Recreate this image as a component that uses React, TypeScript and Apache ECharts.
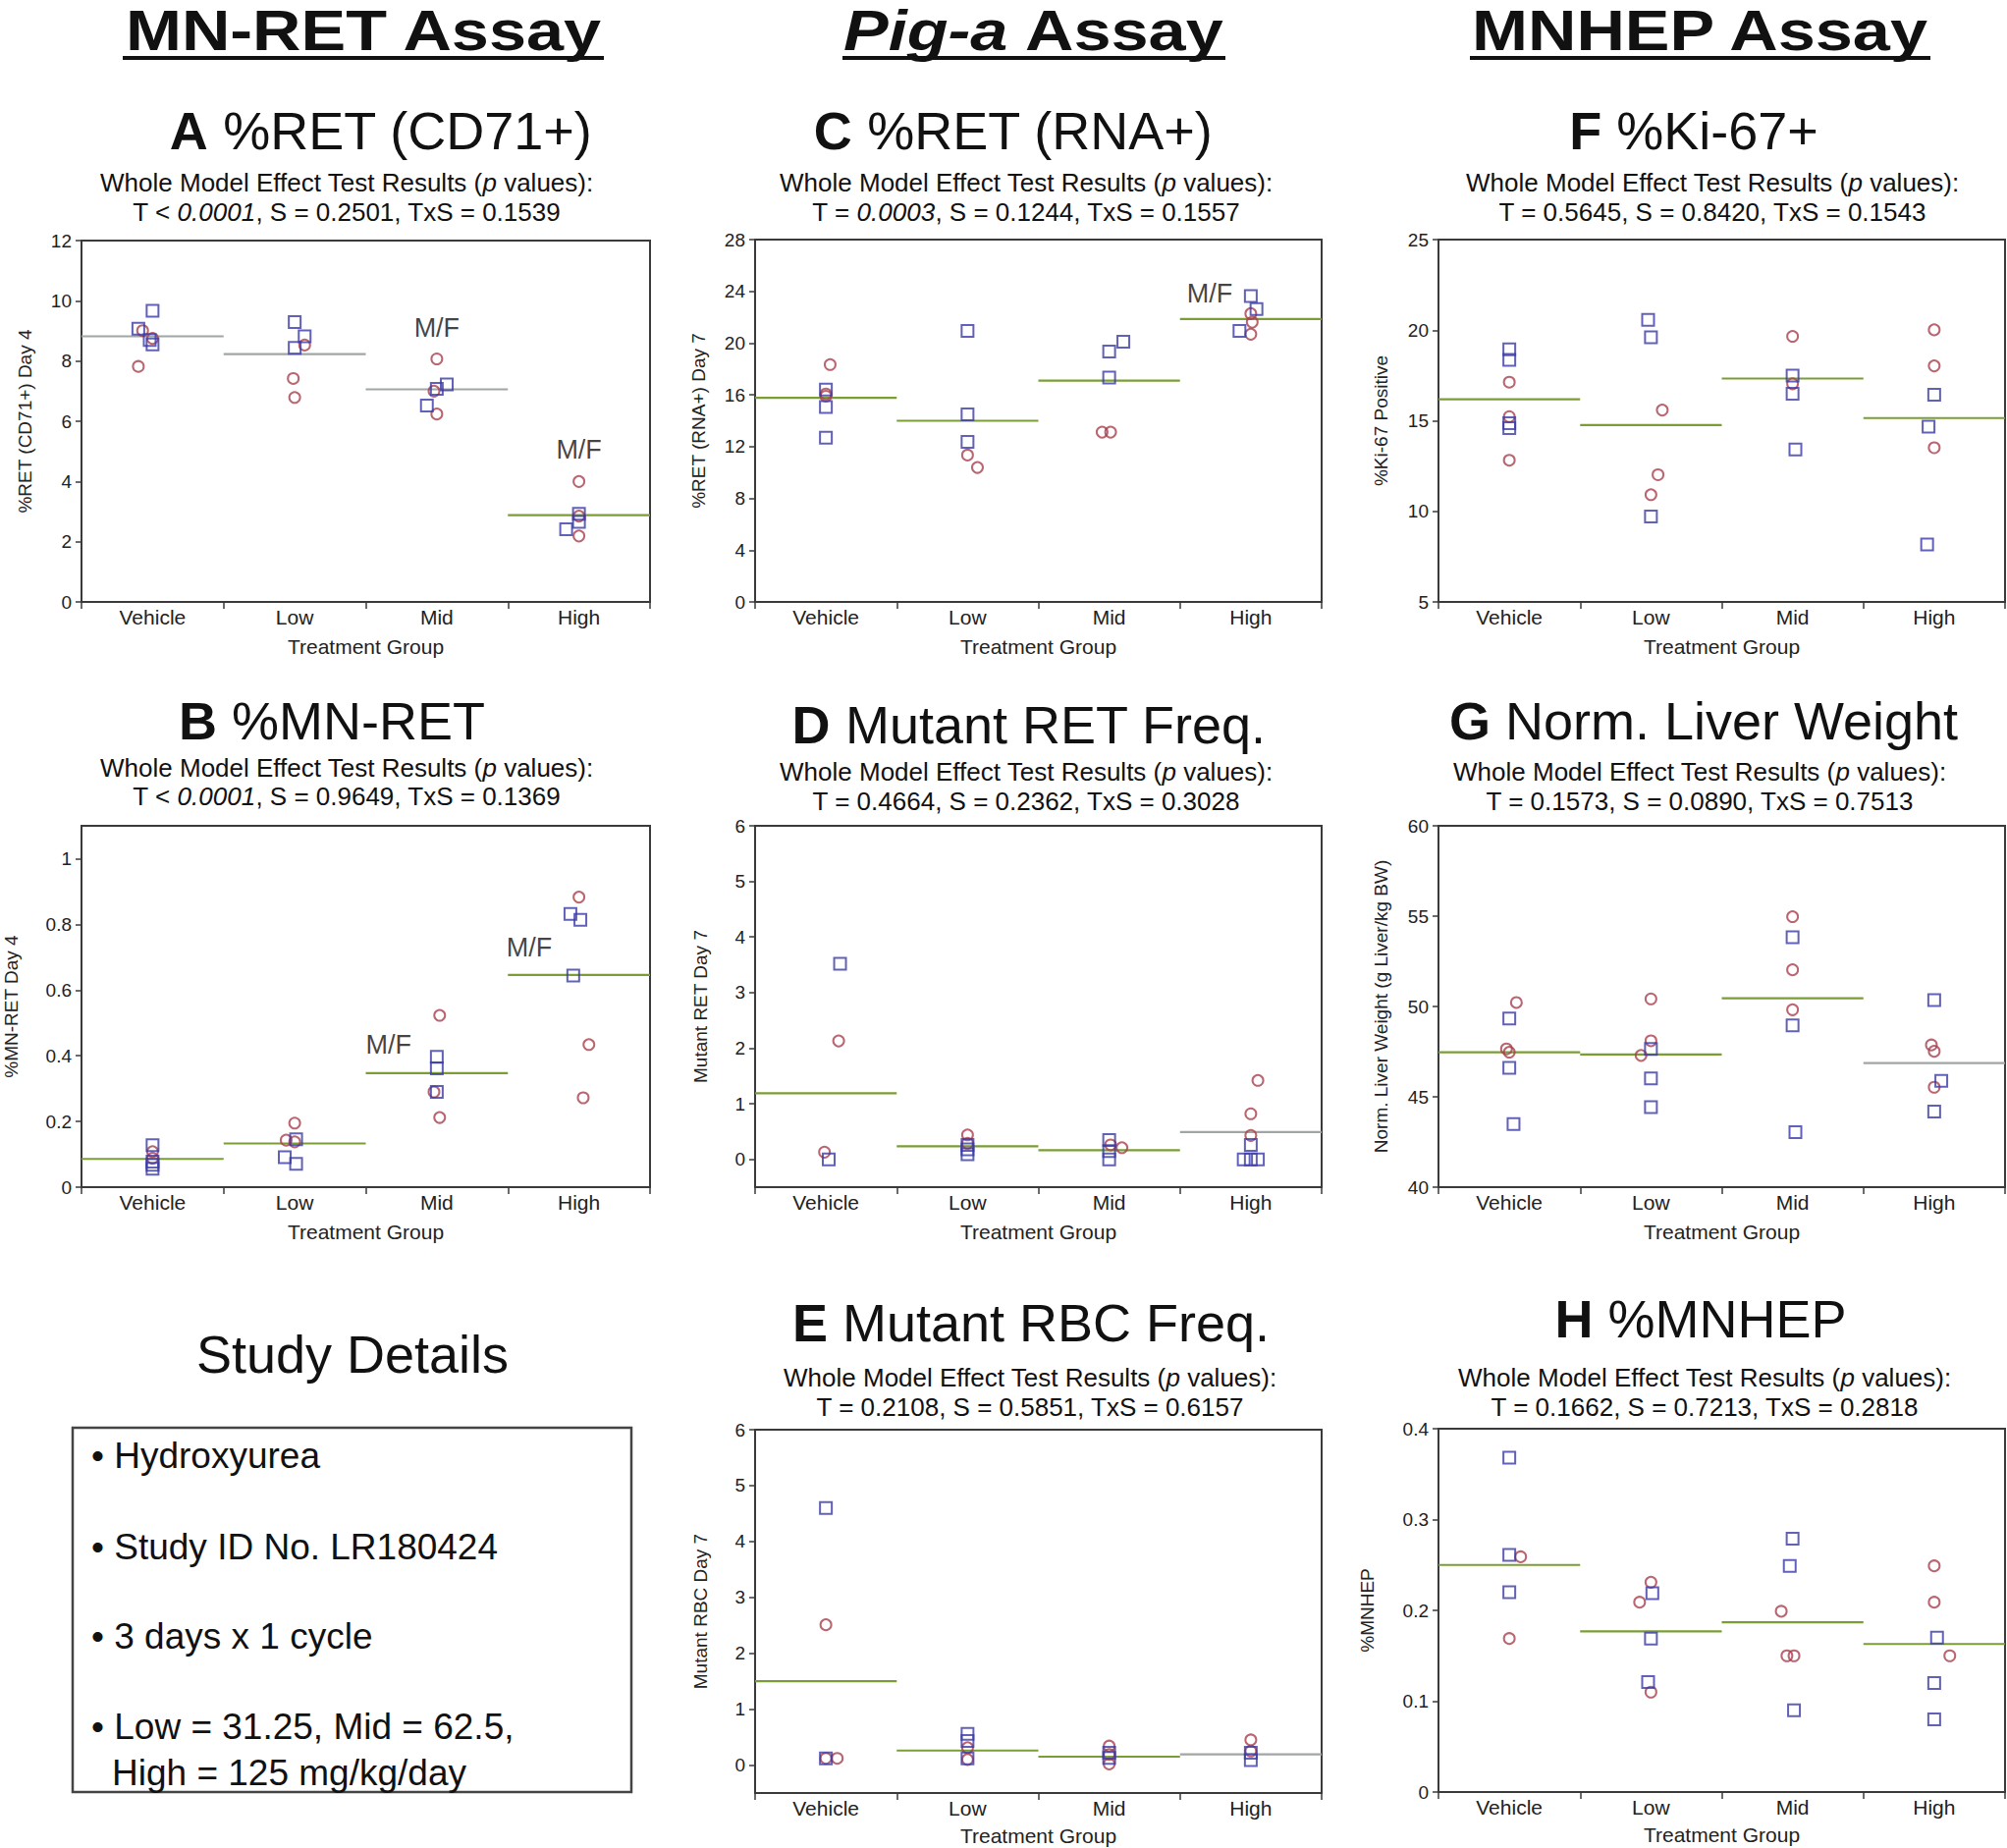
import React, { useEffect, useRef } from 'react';
import * as echarts from 'echarts';

const FONT = '"Liberation Sans", Arial, Helvetica, sans-serif';

const CATEGORIES = ['Vehicle', 'Low', 'Mid', 'High'];
const X_LABEL_VALUES = [0, 1, 2, 3];
const X_TICK_VALUES = [-0.5, 0.5, 1.5, 2.5, 3.5];

// points: [groupIndex, value, jitter (fraction of group width)]
// ---- A %RET (CD71+)
const A_MALE = [[0, 9.07, -0.1], [0, 9.67, 0], [0, 8.55, 0], [0, 8.7, -0.02], [1, 9.29, 0], [1, 8.82, 0.07], [1, 8.44, 0], [2, 6.52, -0.07], [2, 7.22, 0.07], [2, 7.08, 0], [3, 2.41, -0.09], [3, 2.93, 0], [3, 2.66, 0]];
const A_FEMALE = [[0, 7.82, -0.1], [0, 9.01, -0.07], [0, 8.75, 0], [1, 8.53, 0.07], [1, 7.42, -0.01], [1, 6.79, 0], [2, 8.07, 0], [2, 6.24, 0], [2, 7.0, -0.02], [3, 4.0, 0], [3, 2.19, 0], [3, 2.85, 0]];
const A_MEANS = [8.82, 8.23, 7.06, 2.88];
const A_TICKS = [0, 2, 4, 6, 8, 10, 12];
const A_MF = [[2, 9.1, 0], [3, 5.05, 0]];

// ---- C %RET (RNA+)
const C_MALE = [[0, 16.4, 0], [0, 15.06, 0], [0, 12.69, 0], [1, 20.94, 0], [1, 14.5, 0], [1, 12.36, 0], [2, 19.35, 0], [2, 20.1, 0.1], [2, 17.33, 0], [3, 23.64, 0], [3, 22.63, 0.04], [3, 20.94, -0.08]];
const C_FEMALE = [[0, 18.34, 0.03], [0, 16.07, 0], [0, 15.9, 0], [1, 11.35, 0], [1, 10.39, 0.07], [2, 13.12, -0.05], [2, 13.12, 0.01], [3, 22.28, 0], [3, 21.62, 0.01], [3, 20.69, 0]];
const C_MEANS = [15.77, 14.0, 17.1, 21.87];
const C_TICKS = [0, 4, 8, 12, 16, 20, 24, 28];
const C_MF = [[3, 23.8, -0.29]];

// ---- F %Ki-67+
const F_MALE = [[0, 18.94, 0], [0, 18.36, 0], [0, 14.86, 0], [0, 14.6, 0], [1, 20.57, -0.02], [1, 19.61, 0], [1, 9.71, 0], [2, 17.49, 0], [2, 16.49, 0], [2, 13.42, 0.02], [3, 16.44, 0], [3, 14.68, -0.04], [3, 8.17, -0.05]];
const F_FEMALE = [[0, 17.13, 0], [0, 15.23, 0], [0, 12.82, 0], [1, 15.59, 0.08], [1, 12.02, 0.05], [1, 10.92, 0], [2, 19.66, 0], [2, 17.04, 0], [3, 20.02, 0], [3, 18.03, 0], [3, 13.51, 0]];
const F_MEANS = [16.19, 14.76, 17.33, 15.15];
const F_TICKS = [5, 10, 15, 20, 25];

// ---- B %MN-RET
const B_MALE = [[0, 0.128, 0], [0, 0.068, 0], [0, 0.056, 0], [0, 0.078, 0], [1, 0.091, -0.07], [1, 0.071, 0.01], [1, 0.146, 0.01], [2, 0.397, 0], [2, 0.362, 0], [2, 0.29, 0], [3, 0.832, -0.06], [3, 0.814, 0.01], [3, 0.644, -0.04]];
const B_FEMALE = [[0, 0.108, 0], [0, 0.088, 0], [1, 0.195, 0], [1, 0.143, -0.06], [1, 0.138, 0], [2, 0.523, 0.02], [2, 0.29, -0.02], [2, 0.212, 0.02], [3, 0.883, 0], [3, 0.434, 0.07], [3, 0.272, 0.03]];
const B_MEANS = [0.086, 0.133, 0.347, 0.646];
const B_TICKS = [0, 0.2, 0.4, 0.6, 0.8, 1];
const B_MF = [[2, 0.432, -0.34], [3, 0.728, -0.35]];

// ---- D Mutant RET Freq.
const D_MALE = [[0, 3.52, 0.1], [0, 0.0, 0.02], [1, 0.09, 0], [1, 0.18, 0], [1, 0.26, 0], [2, 0.35, 0], [2, 0.15, 0], [2, 0.0, 0], [3, 0.0, -0.05], [3, 0.0, 0], [3, 0.0, 0.05], [3, 0.26, 0]];
const D_FEMALE = [[0, 2.13, 0.09], [0, 0.13, -0.01], [1, 0.44, 0], [1, 0.29, 0], [2, 0.21, 0.09], [2, 0.26, 0.01], [3, 1.42, 0.05], [3, 0.82, 0], [3, 0.43, 0]];
const D_MEANS = [1.19, 0.235, 0.164, 0.49];
const D_TICKS = [0, 1, 2, 3, 4, 5, 6];

// ---- G Norm. Liver Weight
const G_MALE = [[0, 49.33, 0], [0, 46.6, 0], [0, 43.49, 0.03], [1, 47.65, 0], [1, 46.02, 0], [1, 44.43, 0], [2, 53.83, 0], [2, 48.95, 0], [2, 43.04, 0.02], [3, 50.36, 0], [3, 45.88, 0.05], [3, 44.18, 0]];
const G_FEMALE = [[0, 50.22, 0.05], [0, 47.65, -0.02], [0, 47.47, 0], [1, 50.42, 0], [1, 48.1, 0], [1, 47.29, -0.07], [2, 54.97, 0], [2, 52.03, 0], [2, 49.82, 0], [3, 47.87, -0.02], [3, 47.52, 0], [3, 45.53, 0]];
const G_MEANS = [47.47, 47.34, 50.45, 46.87];
const G_TICKS = [40, 45, 50, 55, 60];

// ---- E Mutant RBC Freq.
const E_MALE = [[0, 4.6, 0], [0, 0.12, 0], [1, 0.56, 0], [1, 0.43, 0], [1, 0.12, 0], [2, 0.13, 0], [2, 0.22, 0], [3, 0.09, 0], [3, 0.22, 0]];
const E_FEMALE = [[0, 2.51, 0], [0, 0.12, 0.08], [0, 0.12, 0], [1, 0.31, 0], [1, 0.1, 0], [2, 0.34, 0], [2, 0.02, 0], [2, 0.19, 0], [3, 0.45, 0], [3, 0.25, 0]];
const E_MEANS = [1.5, 0.26, 0.15, 0.19];
const E_TICKS = [0, 1, 2, 3, 4, 5, 6];

// ---- H %MNHEP
const H_MALE = [[0, 0.368, 0], [0, 0.261, 0], [0, 0.22, 0], [1, 0.219, 0.01], [1, 0.169, 0], [1, 0.121, -0.02], [2, 0.279, 0], [2, 0.249, -0.02], [2, 0.09, 0.01], [3, 0.17, 0.02], [3, 0.12, 0], [3, 0.08, 0]];
const H_FEMALE = [[0, 0.259, 0.08], [0, 0.169, 0], [1, 0.231, 0], [1, 0.209, -0.08], [1, 0.11, 0], [2, 0.199, -0.08], [2, 0.15, -0.04], [2, 0.15, 0.01], [3, 0.249, 0], [3, 0.209, 0], [3, 0.15, 0.11]];
const H_MEANS = [0.25, 0.177, 0.187, 0.163];
const H_TICKS = [0, 0.1, 0.2, 0.3, 0.4];

const HEADERS = ['MN-RET Assay', '{i|Pig-a} Assay', 'MNHEP Assay'];
const STUDY_LINES = ['• Hydroxyurea', '• Study ID No. LR180424', '• 3 days x 1 cycle', '• Low = 31.25, Mid = 62.5,', '  High = 125 mg/kg/day'];

const GREEN = '#7a9e34';
const GRAY = '#a0a6a6';
const BLUE = '#3a3aa6';
const RED = '#a8404e';

const PANELS = [
  { letter: 'A', title: '%RET (CD71+)', p: 'T < {i|0.0001}, S = 0.2501, TxS = 0.1539', grid: { left: 83, top: 245, width: 579, height: 368 }, yMin: 0, yMax: 12, ticks: A_TICKS, yName: '%RET (CD71+) Day 4', nameGap: 48, male: A_MALE, female: A_FEMALE, means: A_MEANS, lineColors: [GRAY, GRAY, GRAY, GREEN], mf: A_MF, tpos: [388, 133], spos: [353, 186, 216], xNameGap: 35 },
  { letter: 'C', title: '%RET (RNA+)', p: 'T = {i|0.0003}, S = 0.1244, TxS = 0.1557', grid: { left: 769, top: 244, width: 577, height: 369 }, yMin: 0, yMax: 28, ticks: C_TICKS, yName: '%RET (RNA+) Day 7', nameGap: 48, male: C_MALE, female: C_FEMALE, means: C_MEANS, lineColors: [GREEN, GREEN, GREEN, GREEN], mf: C_MF, tpos: [1032, 133], spos: [1045, 186, 216], xNameGap: 35 },
  { letter: 'F', title: ' %Ki-67+', p: 'T = 0.5645, S = 0.8420, TxS = 0.1543', grid: { left: 1465, top: 244, width: 577, height: 369 }, yMin: 5, yMax: 25, ticks: F_TICKS, yName: '%Ki-67 Positive', nameGap: 49, male: F_MALE, female: F_FEMALE, means: F_MEANS, lineColors: [GREEN, GREEN, GREEN, GREEN], mf: [], tpos: [1725, 133], spos: [1744, 186, 216], xNameGap: 35 },
  { letter: 'B', title: ' %MN-RET', p: 'T < {i|0.0001}, S = 0.9649, TxS = 0.1369', grid: { left: 83, top: 841, width: 579, height: 368 }, yMin: 0, yMax: 1.1, ticks: B_TICKS, yName: '%MN-RET Day 4', nameGap: 62, male: B_MALE, female: B_FEMALE, means: B_MEANS, lineColors: [GREEN, GREEN, GREEN, GREEN], mf: B_MF, tpos: [338, 734], spos: [353, 782, 811], xNameGap: 35 },
  { letter: 'D', title: ' Mutant RET Freq.', p: 'T = 0.4664, S = 0.2362, TxS = 0.3028', grid: { left: 769, top: 841, width: 577, height: 368 }, yMin: -0.5, yMax: 6, ticks: D_TICKS, yName: 'Mutant RET Day 7', nameGap: 46, male: D_MALE, female: D_FEMALE, means: D_MEANS, lineColors: [GREEN, GREEN, GREEN, GRAY], mf: [], tpos: [1048, 738], spos: [1045, 786, 816], xNameGap: 35 },
  { letter: 'G', title: ' Norm. Liver Weight', p: 'T = 0.1573, S = 0.0890, TxS = 0.7513', grid: { left: 1465, top: 841, width: 577, height: 368 }, yMin: 40, yMax: 60, ticks: G_TICKS, yName: 'Norm. Liver Weight (g Liver/kg BW)', nameGap: 49, male: G_MALE, female: G_FEMALE, means: G_MEANS, lineColors: [GREEN, GREEN, GREEN, GRAY], mf: [], tpos: [1735, 734], spos: [1731, 786, 816], xNameGap: 35 },
  { letter: 'E', title: ' Mutant RBC Freq.', p: 'T = 0.2108, S = 0.5851, TxS = 0.6157', grid: { left: 769, top: 1456, width: 577, height: 370 }, yMin: -0.5, yMax: 6, ticks: E_TICKS, yName: 'Mutant RBC Day 7', nameGap: 46, male: E_MALE, female: E_FEMALE, means: E_MEANS, lineColors: [GREEN, GREEN, GREEN, GRAY], mf: [], tpos: [1050, 1347], spos: [1049, 1403, 1433], xNameGap: 33 },
  { letter: 'H', title: ' %MNHEP', p: 'T = 0.1662, S = 0.7213, TxS = 0.2818', grid: { left: 1465, top: 1455, width: 577, height: 370 }, yMin: 0, yMax: 0.4, ticks: H_TICKS, yName: '%MNHEP', nameGap: 63, male: H_MALE, female: H_FEMALE, means: H_MEANS, lineColors: [GREEN, GREEN, GREEN, GREEN], mf: [], tpos: [1732, 1343], spos: [1736, 1403, 1433], xNameGap: 33 },
];

function text(x: number, y: number, t: string, size: number, opts: any = {}) {
  return {
    type: 'text',
    x,
    y,
    scaleX: opts.scaleX || 1,
    style: {
      text: t,
      fontSize: size,
      fontFamily: FONT,
      fontWeight: opts.weight || 'normal',
      fill: '#111',
      align: opts.align || 'center',
      verticalAlign: opts.valign || 'middle',
      rich: {
        b: { fontSize: size, fontFamily: FONT, fontWeight: 'bold', fill: '#111' },
        i: { fontSize: size, fontFamily: FONT, fontStyle: 'italic', fontWeight: opts.weight || 'normal', fill: '#111' },
      },
    },
  };
}

function buildOption() {
  const grid: any[] = [];
  const xAxis: any[] = [];
  const yAxis: any[] = [];
  const series: any[] = [];
  const graphic: any[] = [];

  PANELS.forEach((p, idx) => {
    grid.push({ ...p.grid, show: true, borderColor: '#3a3a3a', borderWidth: 2, backgroundColor: 'transparent' });
    xAxis.push({
      gridIndex: idx,
      type: 'value',
      min: -0.5,
      max: 3.5,
      name: 'Treatment Group',
      nameLocation: 'middle',
      nameGap: p.xNameGap,
      nameTextStyle: { fontSize: 21, fontFamily: FONT, color: '#222' },
      axisLine: { show: true, onZero: false, lineStyle: { color: '#3a3a3a', width: 2 } },
      axisTick: { show: true, length: 7, customValues: X_TICK_VALUES, lineStyle: { color: '#3a3a3a', width: 1.5 } },
      axisLabel: { show: true, customValues: X_LABEL_VALUES, margin: 5, fontSize: 21, fontFamily: FONT, color: '#222', formatter: (v: number) => CATEGORIES[Math.round(v)] || '' },
      splitLine: { show: false },
    });
    yAxis.push({
      gridIndex: idx,
      type: 'value',
      min: p.yMin,
      max: p.yMax,
      name: p.yName,
      nameLocation: 'middle',
      nameGap: p.nameGap,
      nameTextStyle: { fontSize: 19, fontFamily: FONT, color: '#222' },
      axisLine: { show: true, onZero: false, lineStyle: { color: '#3a3a3a', width: 2 } },
      axisTick: { show: true, length: 6, customValues: p.ticks, lineStyle: { color: '#3a3a3a', width: 1.5 } },
      axisLabel: { show: true, customValues: p.ticks, margin: 10, fontSize: 19, fontFamily: FONT, color: '#222', formatter: (v: number) => String(+Number(v).toFixed(3)) },
      splitLine: { show: false },
    });
    const toXY = (arr: number[][]) => arr.map((d) => [d[0] + d[2], d[1]]);
    series.push({
      type: 'custom',
      xAxisIndex: idx,
      yAxisIndex: idx,
      data: p.means.map((m, i) => [i, m]),
      renderItem: (params: any, api: any) => {
        const i = api.value(0);
        const m = api.value(1);
        const a = api.coord([i - 0.5, m]);
        const b = api.coord([i + 0.5, m]);
        return {
          type: 'line',
          shape: { x1: a[0], y1: a[1], x2: b[0], y2: b[1] },
          style: { stroke: p.lineColors[params.dataIndex], lineWidth: 2.2 },
        };
      },
      z: 2,
    });
    series.push({
      type: 'scatter',
      xAxisIndex: idx,
      yAxisIndex: idx,
      data: toXY(p.female),
      symbol: 'circle',
      symbolSize: 11,
      itemStyle: { color: 'rgba(0,0,0,0)', borderColor: RED, borderWidth: 2 },
      z: 3,
    });
    series.push({
      type: 'scatter',
      xAxisIndex: idx,
      yAxisIndex: idx,
      data: toXY(p.male),
      symbol: 'rect',
      symbolSize: 12,
      itemStyle: { color: 'rgba(0,0,0,0)', borderColor: BLUE, borderWidth: 2 },
      z: 4,
    });
    if (p.mf.length) {
      series.push({
        type: 'scatter',
        xAxisIndex: idx,
        yAxisIndex: idx,
        data: toXY(p.mf),
        symbol: 'circle',
        symbolSize: 1,
        itemStyle: { color: 'rgba(0,0,0,0)' },
        label: { show: true, position: 'inside', formatter: 'M/F', fontSize: 27, fontFamily: FONT, color: '#111' },
        z: 5,
      });
    }
    // panel titles
    graphic.push(text(p.tpos[0], p.tpos[1], `{b|${p.letter}}${p.title.startsWith(' ') ? '' : ' '}${p.title}`, 54));
    graphic.push(text(p.spos[0], p.spos[1], 'Whole Model Effect Test Results ({i|p} values):', 26));
    graphic.push(text(p.spos[0], p.spos[2], p.p, 26));
  });

  // headers
  const headerPos = [[370, 31, 125, 615], [1053, 31, 858, 1248], [1731, 31, 1497, 1966]];
  HEADERS.forEach((h, i) => {
    const [cx, cy, x1, x2] = headerPos[i];
    graphic.push(text(cx, cy, h, 58, { weight: 'bold', scaleX: 1.18 }));
    graphic.push({ type: 'rect', shape: { x: x1, y: 57, width: x2 - x1, height: 4 }, style: { fill: '#111' } });
  });

  // study details
  graphic.push(text(359, 1379, 'Study Details', 54));
  graphic.push({ type: 'rect', shape: { x: 74, y: 1454, width: 569, height: 371 }, style: { fill: 'none', stroke: '#444', lineWidth: 2.5 } });
  const studyY = [1482, 1575, 1666, 1758, 1805];
  STUDY_LINES.forEach((l, i) => {
    graphic.push(text(i === 4 ? 114 : 93, studyY[i], i === 4 ? l.trim() : l, 37, { align: 'left' }));
  });

  return {
    animation: false,
    backgroundColor: '#ffffff',
    grid,
    xAxis,
    yAxis,
    series,
    graphic,
  };
}

export default function App() {
  const ref = useRef<HTMLDivElement>(null);
  useEffect(() => {
    if (!ref.current) return;
    const chart = echarts.init(ref.current, undefined, { renderer: 'svg' });
    chart.setOption(buildOption() as any);
    return () => chart.dispose();
  }, []);
  return <div ref={ref} style={{ position: 'absolute', left: 0, top: 0, width: 2044, height: 1882 }} />;
}
